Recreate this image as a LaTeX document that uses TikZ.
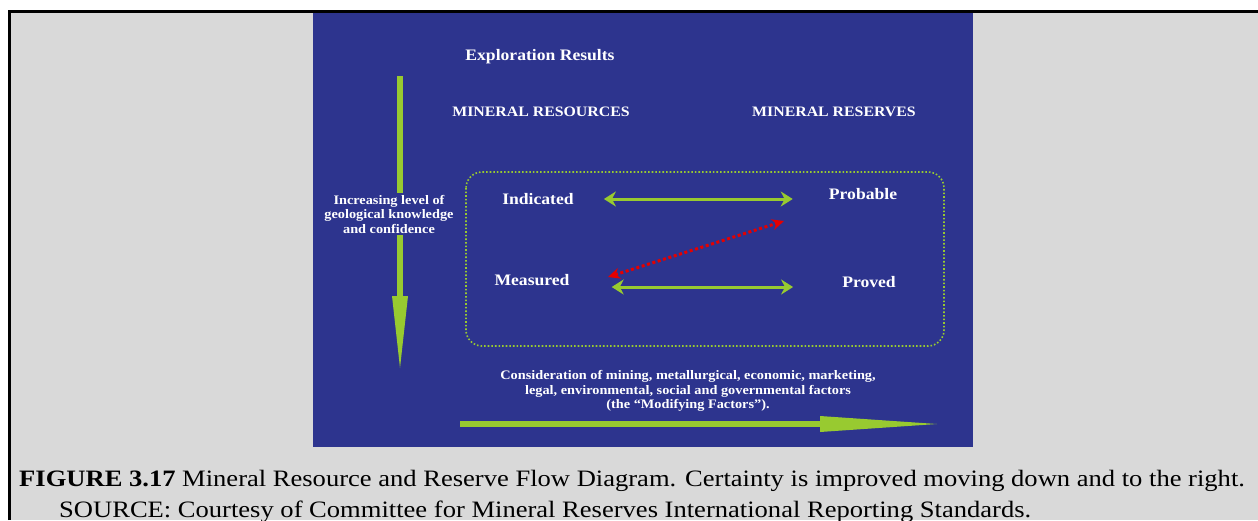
\documentclass[tikz,border=0pt]{standalone}
\usepackage{fontspec}
\setmainfont{Liberation Serif}
\newfontfamily\capfont[FakeStretch=1.13]{Liberation Serif}
\newfontfamily\slidefont[FakeStretch=1.1]{Liberation Serif}
\usetikzlibrary{arrows.meta, calc}

\definecolor{panelblue}{RGB}{45,52,142}
\definecolor{limegreen}{RGB}{152,202,48}
\definecolor{pagegray}{RGB}{217,217,217}

\begin{document}
\begin{tikzpicture}[x=1pt,y=-1pt,
  lbl/.style={text=white,inner sep=1pt,font=\slidefont\fontsize{16}{17}\selectfont\bfseries},
  caps/.style={lbl,font=\slidefont\fontsize{14.4}{16}\selectfont\bfseries},
  note/.style={text=white,inner sep=1pt,align=center,
    font=\slidefont\fontsize{13}{14.5}\selectfont\bfseries},
  link/.style={limegreen,line width=3pt,
    {Stealth[length=12pt,width=15pt]}-{Stealth[length=12pt,width=15pt]}},
  bigarrow/.style={limegreen,line width=6pt,
    -{Triangle[length=#1,width=16pt,line width=0pt]}}]
  % Page and frame
  \useasboundingbox (0,0) rectangle (1258,520);
  \fill[pagegray] (9,12) rectangle (1258,520);
  \draw[line width=3pt] (9,520) -- (9,11.5) -- (1258,11.5);
  \fill[panelblue] (313,13) rectangle (973,447);

  % Headings
  \node[lbl] (expl) at (540,57) {Exploration Results};
  \node[caps] (res) at (541,112) {MINERAL RESOURCES};
  \node[caps] (rsv) at (834,112) {MINERAL RESERVES};

  % Knowledge arrow (drawn first, the label sits on top)
  \coordinate (kTop) at (400,76);
  \coordinate (kBot) at (400,368);
  \draw[bigarrow=72pt] (kTop) -- (kBot);
  \node[note,fill=panelblue,inner sep=2pt] (know) at (389,214)
    {Increasing level of\\geological knowledge\\and confidence};

  % Categories inside the dotted box
  \draw[limegreen,dotted,line width=1.6pt,rounded corners=16pt]
    (466,172) rectangle (944,346);
  \node[lbl] (ind) at (538,199) {Indicated};
  \node[lbl] (prob) at (863,194) {Probable};
  \node[lbl] (meas) at (532,280) {Measured};
  \node[lbl] (prov) at (869,282) {Proved};

  \draw[link,shorten <=29pt,shorten >=35pt] (ind.east) -- (ind.east -| prob.west);
  \draw[link,shorten <=41pt,shorten >=48pt]
    ([yshift=-7pt]meas.east) -- ([yshift=-7pt]meas.east -| prov.west);

  % Red link between Measured and Probable
  \coordinate (rLow) at (608,277);
  \coordinate (rHigh) at (784,221);
  \draw[red!90!black,line width=3pt,dash pattern=on 3pt off 2.6pt,
    {Stealth[length=12pt,width=11pt]}-{Stealth[length=12pt,width=11pt]}]
    (rLow) -- (rHigh);

  % Modifying factors
  \node[note] (mod) at (688,391)
    {Consideration of mining, metallurgical, economic, marketing,\\
     legal, environmental, social and governmental factors\\
     (the “Modifying Factors”).};
  \coordinate (mTail) at (460,424);
  \coordinate (mTip) at (937,424);
  \draw[bigarrow=117pt] (mTail) -- (mTip);

  % Caption
  \node[anchor=base west,inner sep=0pt,font=\capfont\fontsize{23.5}{26}\selectfont]
    (cap) at (19,486)
    {\textbf{FIGURE 3.17} Mineral Resource and Reserve Flow Diagram. Certainty is improved moving down and to the right.};
  \node[anchor=base west,inner sep=0pt,font=\capfont\fontsize{23.5}{26}\selectfont]
    (src) at (59,517)
    {SOURCE: Courtesy of Committee for Mineral Reserves International Reporting Standards.};
\end{tikzpicture}
\end{document}
